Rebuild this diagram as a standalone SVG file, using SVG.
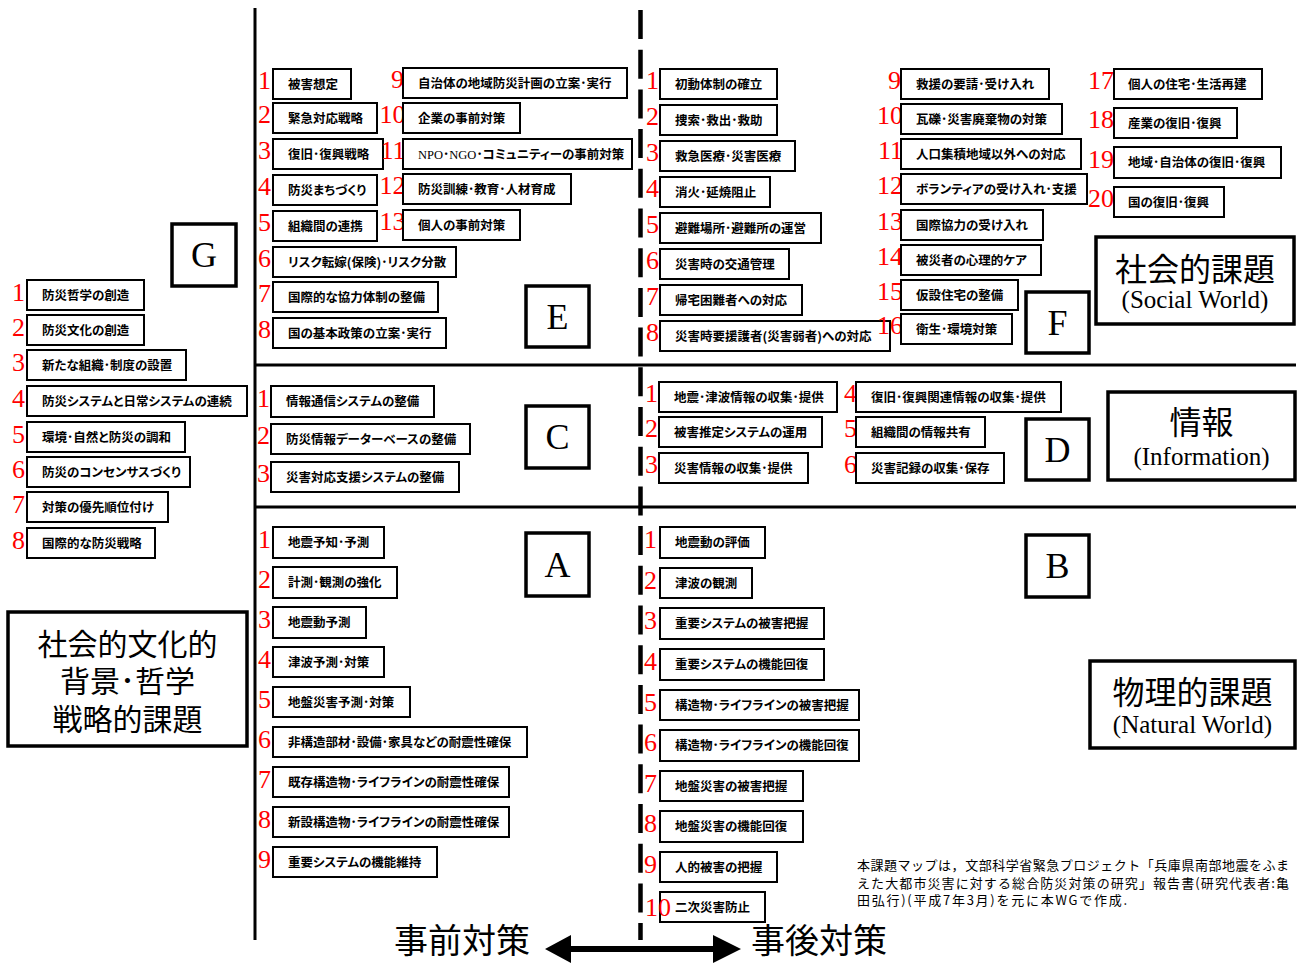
<svg xmlns="http://www.w3.org/2000/svg" width="1301" height="963" viewBox="0 0 1301 963">
<style>
.bx{fill:#fff;stroke:#000;stroke-width:2}
.tb{fill:#fff;stroke:#000;stroke-width:3.5}
.t{font-family:"Noto Sans CJK JP","Noto Sans",sans-serif;font-size:12.5px;font-weight:bold;fill:#000;font-feature-settings:"palt"}
.n{font-family:"Liberation Serif",serif;font-size:26px;fill:#f00}
.ne{text-anchor:end}
.tag{font-family:"Liberation Serif",serif;font-size:36px;fill:#000;text-anchor:middle}
.big{font-family:"Noto Sans CJK JP",sans-serif;font-size:32px;fill:#000;text-anchor:middle}
.en{font-family:"Liberation Serif",serif;font-size:25px}
.note{font-family:"Noto Sans CJK JP",sans-serif;font-size:13px;fill:#000}
.sr{font-family:"Liberation Serif",serif;font-weight:normal}
.ln{stroke:#000;stroke-width:3;fill:none}
.gl{font-family:"Noto Sans CJK JP",sans-serif;font-size:30px;text-anchor:middle;fill:#000}
.bt{font-family:"Noto Sans CJK JP",sans-serif;font-size:34px;fill:#000}
</style>
<g id="connectors">
<line class="ln" x1="255" y1="8" x2="255" y2="940"/>
<line x1="640.5" y1="10" x2="640.5" y2="940" stroke="#000" stroke-width="4.5" stroke-dasharray="29 10.7"/>
<line class="ln" x1="255" y1="365" x2="1296" y2="365"/>
<line class="ln" x1="255" y1="507" x2="1296" y2="507"/>
<polygon points="545,949 571,935 571,946 713,946 713,935 741,949 713,963 713,952 571,952 571,963" fill="#000"/>
</g>
<g id="labels-bottom">
<text class="bt" x="394" y="953">事前対策</text>
<text class="bt" x="751" y="953">事後対策</text>
</g>

<g id="title-G">
<rect class="tb" x="8" y="612" width="239" height="134"/>
<text class="gl" x="127.5" y="655">社会的文化的<tspan x="127.5" y="692">背景･哲学</tspan><tspan x="127.5" y="730">戦略的課題</tspan></text>
</g>
<g id="title-social"><rect class="tb" x="1096" y="237" width="198" height="87"/><text class="big" x="1195" y="281">社会的課題<tspan class="en" x="1195" y="308">(Social World)</tspan></text></g>
<g id="title-info"><rect class="tb" x="1108" y="392" width="187" height="88"/><text class="big" x="1201.5" y="434">情報<tspan class="en" x="1201.5" y="465">(Information)</tspan></text></g>
<g id="title-natural"><rect class="tb" x="1090" y="661" width="205" height="87"/><text class="big" x="1192.5" y="704">物理的課題<tspan class="en" x="1192.5" y="733">(Natural World)</tspan></text></g>

<g id="tag-G"><rect class="tb" x="172" y="224" width="64" height="62"/><text class="tag" x="204" y="267">G</text></g>
<g id="tag-E"><rect class="tb" x="526" y="286" width="63" height="61"/><text class="tag" x="557.5" y="329">E</text></g>
<g id="tag-F"><rect class="tb" x="1026" y="292" width="63" height="61"/><text class="tag" x="1057.5" y="335">F</text></g>
<g id="tag-C"><rect class="tb" x="526" y="406" width="63" height="62"/><text class="tag" x="557.5" y="449">C</text></g>
<g id="tag-D"><rect class="tb" x="1026" y="419" width="63" height="61"/><text class="tag" x="1057.5" y="462">D</text></g>
<g id="tag-A"><rect class="tb" x="526" y="533" width="63" height="63"/><text class="tag" x="557.5" y="577">A</text></g>
<g id="tag-B"><rect class="tb" x="1026" y="535" width="63" height="62"/><text class="tag" x="1057.5" y="578">B</text></g>

<!-- G column -->
<g id="G1"><text class="n ne" x="25" y="300.5">1</text><rect class="bx" x="27" y="280" width="117" height="30"/><text class="t" x="42" y="299.5">防災哲学の創造</text></g>
<g id="G2"><text class="n ne" x="25" y="335.5">2</text><rect class="bx" x="27" y="315" width="117" height="30"/><text class="t" x="42" y="334.5">防災文化の創造</text></g>
<g id="G3"><text class="n ne" x="25" y="370.5">3</text><rect class="bx" x="27" y="350" width="159" height="30"/><text class="t" x="42" y="369.5">新たな組織･制度の設置</text></g>
<g id="G4"><text class="n ne" x="25" y="406.5">4</text><rect class="bx" x="27" y="386" width="220" height="30"/><text class="t" x="42" y="405.5">防災システムと日常システムの連続</text></g>
<g id="G5"><text class="n ne" x="25" y="442.5">5</text><rect class="bx" x="27" y="422" width="158" height="30"/><text class="t" x="42" y="441.5">環境･自然と防災の調和</text></g>
<g id="G6"><text class="n ne" x="25" y="477.5">6</text><rect class="bx" x="27" y="457" width="163" height="30"/><text class="t" x="42" y="476.5">防災のコンセンサスづくり</text></g>
<g id="G7"><text class="n ne" x="25" y="512.5">7</text><rect class="bx" x="27" y="492" width="141" height="30"/><text class="t" x="42" y="511.5">対策の優先順位付け</text></g>
<g id="G8"><text class="n ne" x="25" y="548.5">8</text><rect class="bx" x="27" y="528" width="128" height="30"/><text class="t" x="42" y="547.5">国際的な防災戦略</text></g>

<!-- E column -->
<g id="E1"><text class="n ne" x="271" y="89">1</text><rect class="bx" x="273" y="69" width="78" height="30"/><text class="t" x="288" y="88.5">被害想定</text></g>
<g id="E2"><text class="n ne" x="271" y="123">2</text><rect class="bx" x="273" y="103" width="104" height="30"/><text class="t" x="288" y="122.5">緊急対応戦略</text></g>
<g id="E3"><text class="n ne" x="271" y="159">3</text><rect class="bx" x="273" y="139" width="110" height="30"/><text class="t" x="288" y="158.5">復旧･復興戦略</text></g>
<g id="E4"><text class="n ne" x="271" y="195">4</text><rect class="bx" x="273" y="175" width="104" height="30"/><text class="t" x="288" y="194.5">防災まちづくり</text></g>
<g id="E5"><text class="n ne" x="271" y="231">5</text><rect class="bx" x="273" y="211" width="104" height="30"/><text class="t" x="288" y="230.5">組織間の連携</text></g>
<g id="E6"><text class="n ne" x="271" y="267">6</text><rect class="bx" x="273" y="247" width="183" height="30"/><text class="t" x="288" y="266.5">リスク転嫁(保険)･リスク分散</text></g>
<g id="E7"><text class="n ne" x="271" y="302">7</text><rect class="bx" x="273" y="282" width="165" height="30"/><text class="t" x="288" y="301.5">国際的な協力体制の整備</text></g>
<g id="E8"><text class="n ne" x="271" y="338">8</text><rect class="bx" x="273" y="318" width="173" height="30"/><text class="t" x="288" y="337.5">国の基本政策の立案･実行</text></g>
<g id="E9"><text class="n ne" x="404" y="88">9</text><rect class="bx" x="403" y="68" width="224" height="30"/><text class="t" x="418" y="87.5">自治体の地域防災計画の立案･実行</text></g>
<g id="E10"><text class="n ne" x="405.5" y="123">10</text><rect class="bx" x="403" y="103" width="117" height="30"/><text class="t" x="418" y="122.5">企業の事前対策</text></g>
<g id="E11"><text class="n ne" x="405.5" y="159">11</text><rect class="bx" x="403" y="139" width="229" height="30"/><text class="t" x="418" y="158.5"><tspan class="sr">NPO</tspan>･<tspan class="sr">NGO</tspan>･コミュニティーの事前対策</text></g>
<g id="E12"><text class="n ne" x="405.5" y="194">12</text><rect class="bx" x="403" y="174" width="168" height="30"/><text class="t" x="418" y="193.5">防災訓練･教育･人材育成</text></g>
<g id="E13"><text class="n ne" x="405.5" y="230">13</text><rect class="bx" x="403" y="210" width="117" height="30"/><text class="t" x="418" y="229.5">個人の事前対策</text></g>

<!-- F column -->
<g id="F1"><text class="n ne" x="659" y="89">1</text><rect class="bx" x="660" y="69" width="117" height="30"/><text class="t" x="675" y="88.5">初動体制の確立</text></g>
<g id="F2"><text class="n ne" x="659" y="125">2</text><rect class="bx" x="660" y="105" width="117" height="30"/><text class="t" x="675" y="124.5">捜索･救出･救助</text></g>
<g id="F3"><text class="n ne" x="659" y="161">3</text><rect class="bx" x="660" y="141" width="135" height="30"/><text class="t" x="675" y="160.5">救急医療･災害医療</text></g>
<g id="F4"><text class="n ne" x="659" y="197">4</text><rect class="bx" x="660" y="177" width="110" height="30"/><text class="t" x="675" y="196.5">消火･延焼阻止</text></g>
<g id="F5"><text class="n ne" x="659" y="233">5</text><rect class="bx" x="660" y="213" width="161" height="30"/><text class="t" x="675" y="232.5">避難場所･避難所の運営</text></g>
<g id="F6"><text class="n ne" x="659" y="269">6</text><rect class="bx" x="660" y="249" width="129" height="30"/><text class="t" x="675" y="268.5">災害時の交通管理</text></g>
<g id="F7"><text class="n ne" x="659" y="305">7</text><rect class="bx" x="660" y="285" width="142" height="30"/><text class="t" x="675" y="304.5">帰宅困難者への対応</text></g>
<g id="F8"><text class="n ne" x="659" y="341">8</text><rect class="bx" x="660" y="321" width="230" height="30"/><text class="t" x="675" y="340.5">災害時要援護者(災害弱者)への対応</text></g>
<g id="F9"><text class="n ne" x="901" y="89">9</text><rect class="bx" x="901" y="69" width="148" height="30"/><text class="t" x="916" y="88.5">救援の要請･受け入れ</text></g>
<g id="F10"><text class="n ne" x="903" y="124">10</text><rect class="bx" x="901" y="104" width="161" height="30"/><text class="t" x="916" y="123.5">瓦礫･災害廃棄物の対策</text></g>
<g id="F11"><text class="n ne" x="903" y="159">11</text><rect class="bx" x="901" y="139" width="180" height="30"/><text class="t" x="916" y="158.5">人口集積地域以外への対応</text></g>
<g id="F12"><text class="n ne" x="903" y="194">12</text><rect class="bx" x="901" y="174" width="186" height="30"/><text class="t" x="916" y="193.5">ボランティアの受け入れ･支援</text></g>
<g id="F13"><text class="n ne" x="903" y="230">13</text><rect class="bx" x="901" y="210" width="142" height="30"/><text class="t" x="916" y="229.5">国際協力の受け入れ</text></g>
<g id="F14"><text class="n ne" x="903" y="265">14</text><rect class="bx" x="901" y="245" width="140" height="30"/><text class="t" x="916" y="264.5">被災者の心理的ケア</text></g>
<g id="F15"><text class="n ne" x="903" y="300">15</text><rect class="bx" x="901" y="280" width="117" height="30"/><text class="t" x="916" y="299.5">仮設住宅の整備</text></g>
<g id="F16"><text class="n ne" x="903" y="334">16</text><rect class="bx" x="901" y="314" width="111" height="30"/><text class="t" x="916" y="333.5">衛生･環境対策</text></g>
<g id="F17"><text class="n ne" x="1114" y="89">17</text><rect class="bx" x="1114" y="69" width="148" height="30"/><text class="t" x="1128" y="88.5">個人の住宅･生活再建</text></g>
<g id="F18"><text class="n ne" x="1114" y="128">18</text><rect class="bx" x="1114" y="108" width="123" height="30"/><text class="t" x="1128" y="127.5">産業の復旧･復興</text></g>
<g id="F19"><text class="n ne" x="1114" y="167.5">19</text><rect class="bx" x="1114" y="147" width="167" height="31"/><text class="t" x="1128" y="167">地域･自治体の復旧･復興</text></g>
<g id="F20"><text class="n ne" x="1114" y="207">20</text><rect class="bx" x="1114" y="187" width="110" height="30"/><text class="t" x="1128" y="206.5">国の復旧･復興</text></g>

<!-- C column -->
<g id="C1"><text class="n ne" x="270" y="406.5">1</text><rect class="bx" x="271" y="386" width="163" height="31"/><text class="t" x="286" y="406">情報通信システムの整備</text></g>
<g id="C2"><text class="n ne" x="270" y="444">2</text><rect class="bx" x="271" y="424" width="199" height="30"/><text class="t" x="286" y="443.5">防災情報データーベースの整備</text></g>
<g id="C3"><text class="n ne" x="270" y="482">3</text><rect class="bx" x="271" y="462" width="188" height="30"/><text class="t" x="286" y="481.5">災害対応支援システムの整備</text></g>

<!-- D column -->
<g id="D1"><text class="n ne" x="658" y="402">1</text><rect class="bx" x="659" y="382" width="178" height="30"/><text class="t" x="674" y="401.5">地震･津波情報の収集･提供</text></g>
<g id="D2"><text class="n ne" x="658" y="437">2</text><rect class="bx" x="659" y="417" width="163" height="30"/><text class="t" x="674" y="436.5">被害推定システムの運用</text></g>
<g id="D3"><text class="n ne" x="658" y="473">3</text><rect class="bx" x="659" y="453" width="149" height="30"/><text class="t" x="674" y="472.5">災害情報の収集･提供</text></g>
<g id="D4"><text class="n ne" x="857" y="402">4</text><rect class="bx" x="856" y="382" width="205" height="30"/><text class="t" x="871" y="401.5">復旧･復興関連情報の収集･提供</text></g>
<g id="D5"><text class="n ne" x="857" y="437">5</text><rect class="bx" x="856" y="417" width="129" height="30"/><text class="t" x="871" y="436.5">組織間の情報共有</text></g>
<g id="D6"><text class="n ne" x="857" y="473">6</text><rect class="bx" x="856" y="453" width="148" height="30"/><text class="t" x="871" y="472.5">災害記録の収集･保存</text></g>

<!-- A column -->
<g id="A1"><text class="n ne" x="271" y="548">1</text><rect class="bx" x="273" y="527" width="111" height="31"/><text class="t" x="288" y="547">地震予知･予測</text></g>
<g id="A2"><text class="n ne" x="271" y="588">2</text><rect class="bx" x="273" y="567" width="124" height="31"/><text class="t" x="288" y="587">計測･観測の強化</text></g>
<g id="A3"><text class="n ne" x="271" y="628">3</text><rect class="bx" x="273" y="607" width="93" height="31"/><text class="t" x="288" y="627">地震動予測</text></g>
<g id="A4"><text class="n ne" x="271" y="667.5">4</text><rect class="bx" x="273" y="647" width="111" height="30"/><text class="t" x="288" y="666.5">津波予測･対策</text></g>
<g id="A5"><text class="n ne" x="271" y="707.5">5</text><rect class="bx" x="273" y="687" width="137" height="30"/><text class="t" x="288" y="706.5">地盤災害予測･対策</text></g>
<g id="A6"><text class="n ne" x="271" y="747.5">6</text><rect class="bx" x="273" y="727" width="254" height="30"/><text class="t" x="288" y="746.5">非構造部材･設備･家具などの耐震性確保</text></g>
<g id="A7"><text class="n ne" x="271" y="787.5">7</text><rect class="bx" x="273" y="767" width="236" height="30"/><text class="t" x="288" y="786.5">既存構造物･ライフラインの耐震性確保</text></g>
<g id="A8"><text class="n ne" x="271" y="827.5">8</text><rect class="bx" x="273" y="807" width="236" height="30"/><text class="t" x="288" y="826.5">新設構造物･ライフラインの耐震性確保</text></g>
<g id="A9"><text class="n ne" x="271" y="867.5">9</text><rect class="bx" x="273" y="847" width="164" height="30"/><text class="t" x="288" y="866.5">重要システムの機能維持</text></g>

<!-- B column -->
<g id="B1"><text class="n" x="644" y="548">1</text><rect class="bx" x="660" y="527" width="105" height="31"/><text class="t" x="675" y="547">地震動の評価</text></g>
<g id="B2"><text class="n" x="644" y="588.5">2</text><rect class="bx" x="660" y="568" width="92" height="30"/><text class="t" x="675" y="587.5">津波の観測</text></g>
<g id="B3"><text class="n" x="644" y="629">3</text><rect class="bx" x="660" y="608" width="164" height="31"/><text class="t" x="675" y="628">重要システムの被害把握</text></g>
<g id="B4"><text class="n" x="644" y="670">4</text><rect class="bx" x="660" y="649" width="164" height="31"/><text class="t" x="675" y="669">重要システムの機能回復</text></g>
<g id="B5"><text class="n" x="644" y="710.5">5</text><rect class="bx" x="660" y="690" width="199" height="30"/><text class="t" x="675" y="709.5">構造物･ライフラインの被害把握</text></g>
<g id="B6"><text class="n" x="644" y="751">6</text><rect class="bx" x="660" y="730" width="199" height="31"/><text class="t" x="675" y="750">構造物･ライフラインの機能回復</text></g>
<g id="B7"><text class="n" x="644" y="791.5">7</text><rect class="bx" x="660" y="771" width="143" height="30"/><text class="t" x="675" y="790.5">地盤災害の被害把握</text></g>
<g id="B8"><text class="n" x="644" y="832">8</text><rect class="bx" x="660" y="811" width="143" height="31"/><text class="t" x="675" y="831">地盤災害の機能回復</text></g>
<g id="B9"><text class="n" x="644" y="872.5">9</text><rect class="bx" x="660" y="852" width="117" height="30"/><text class="t" x="675" y="871.5">人的被害の把握</text></g>
<g id="B10"><rect class="bx" x="660" y="892" width="105" height="30"/><text class="n" x="645" y="916">10</text><text class="t" x="675" y="911.5">二次災害防止</text></g>

<g id="note">
<text class="note" x="857" y="870" textLength="432" lengthAdjust="spacing">本課題マップは，文部科学省緊急プロジェクト「兵庫県南部地震をふま</text>
<text class="note" x="857" y="888" textLength="432" lengthAdjust="spacing">えた大都市災害に対する総合防災対策の研究」報告書(研究代表者:亀</text>
<text class="note" x="857" y="905" textLength="270" lengthAdjust="spacing">田弘行)(平成7年3月)を元に本WGで作成.</text>
</g>
</svg>
